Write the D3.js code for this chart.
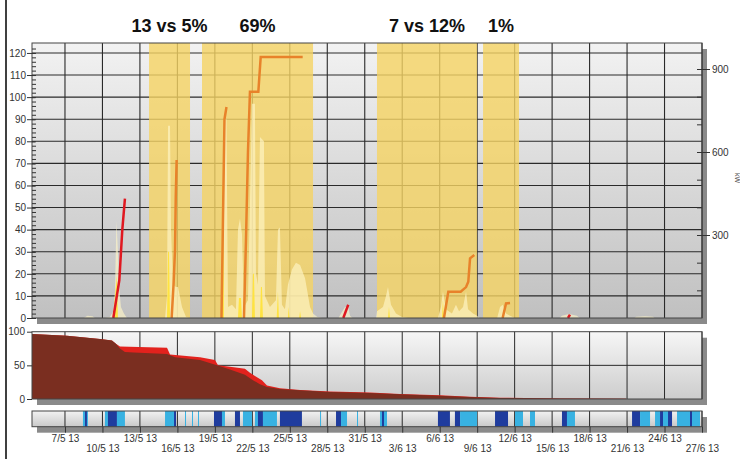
<!DOCTYPE html>
<html>
<head>
<meta charset="utf-8">
<script src="https://cdn.jsdelivr.net/npm/d3@7"></script>
<style>
body { margin: 0; background: #fff; }
svg { font-family: "Liberation Sans", Arial, sans-serif; }
</style>
</head>
<body>
<script>
// days are counted from 1 May 2013 (32 = 1 June)
var dateTicks = [7, 10, 13, 16, 19, 22, 25, 28, 31, 34, 37, 40, 43, 46, 49, 52, 55, 58];
var mainTicks = [0, 10, 20, 30, 40, 50, 60, 70, 80, 90, 100, 110, 120];
var kwTicks = [300, 600, 900];
var pctTicks = [0, 50, 100];

var bandStart = [13.73, 17.97, 31.98, 40.47];
var bandEnd = [17.01, 26.86, 39.99, 43.35];
var bandLabels = ["13 vs 5%", "69%", "7 vs 12%", "1%"];

// pale (light) area
var paleSeries = [
    [8.5, 0], [8.8, 1], [9.2, 0.8], [9.4, 0],
    [10.2, 0], [10.6, 0.5], [10.87, 3], [11.0, 12], [11.12, 44], [11.24, 30], [11.32, 15], [11.48, 5], [11.72, 2], [11.96, 0],
    [15.01, 0], [15.17, 10], [15.25, 87], [15.41, 87], [15.49, 40], [15.65, 15], [15.89, 14], [16.05, 14], [16.37, 5], [16.69, 0.5], [17.0, 0],
    [19.4, 0], [19.65, 3], [19.81, 90], [19.93, 90], [20.05, 5], [20.37, 6], [20.69, 4], [20.85, 40], [21.01, 45], [21.17, 38], [21.33, 5],
    [21.65, 8], [21.97, 97], [22.21, 97], [22.29, 20], [22.45, 15], [22.61, 82], [22.93, 80], [23.01, 10], [23.41, 5], [23.89, 8],
    [24.05, 40], [24.21, 41], [24.37, 6], [24.61, 4], [24.85, 15], [25.17, 22], [25.49, 25], [25.82, 24], [26.22, 18], [26.62, 5],
    [26.86, 2], [27.2, 0.5], [27.6, 0],
    [28.9, 0], [29.1, 2], [29.42, 5], [29.68, 5], [29.82, 1], [30.0, 0],
    [31.9, 0], [31.98, 3], [32.46, 5], [32.7, 10], [32.86, 14], [33.1, 6], [33.5, 2], [33.98, 0.5], [34.5, 0],
    [36.86, 0], [37.1, 5], [37.26, 12], [37.5, 4], [37.98, 2], [38.3, 6], [38.55, 3], [38.87, 5], [39.11, 12], [39.27, 4], [39.67, 2], [39.99, 1], [40.2, 0],
    [41.6, 0], [41.83, 5], [42.04, 6], [42.31, 2], [42.63, 1], [43.0, 0],
    [46.6, 0], [46.79, 1], [47.35, 1.8], [47.99, 1], [48.2, 0],
    [52.6, 0], [52.72, 0.6], [53.44, 0.8], [54.08, 0.6], [54.2, 0]
];

// bright yellow spikes
var brightSeries = [
    [10.87, 0], [11.0, 10], [11.16, 19], [11.24, 0],
    [15.17, 0], [15.25, 30], [15.33, 30], [15.41, 0],
    [19.53, 0], [19.57, 60], [19.65, 60], [19.73, 0],
    [20.85, 0], [20.93, 9], [21.09, 9], [21.17, 0],
    [21.97, 0], [22.05, 20], [22.13, 20], [22.21, 0],
    [22.61, 0], [22.69, 14], [22.77, 14], [22.85, 0],
    [23.95, 0], [24.05, 12], [24.13, 0],
    [24.85, 0], [24.9, 5], [24.98, 0],
    [25.75, 0], [25.82, 3], [25.9, 0],
    [32.86, 0], [32.94, 5], [33.02, 0],
    [37.18, 0], [37.26, 8], [37.34, 0]
];

var orangeLines = [
    [[15.54, 0], [15.69, 15], [15.81, 31], [15.87, 55], [15.94, 71.5]],
    [[19.53, 0], [19.65, 45], [19.77, 90], [19.93, 95.5]],
    [[21.33, 0], [21.49, 35], [21.65, 75], [21.81, 102.4], [22.48, 102.4], [22.67, 118.2], [26.03, 118.2]],
    [[37.34, 0], [37.69, 11.9], [38.68, 11.9], [39.11, 14], [39.29, 16.4], [39.43, 27], [39.77, 28.5]],
    [[42.04, 0], [42.31, 6.6], [42.63, 6.8]]
];

var redLines = [
    [[10.87, 0], [11.35, 17], [11.59, 40], [11.8, 54]],
    [[29.28, 0], [29.68, 6]],
    [[47.27, 0], [47.43, 1.5]]
];

// middle panel, percent
var pctUpper = [
    [4.36, 96.6], [7.16, 94], [9.8, 89], [10.76, 87], [11.08, 82], [11.4, 78], [15.17, 76], [15.41, 66], [17.81, 62],
    [19.01, 58], [19.25, 50], [20.21, 48], [21.41, 45], [21.81, 39], [22.21, 34], [22.77, 28], [23.17, 20], [24.21, 16],
    [25.82, 13.5], [28.22, 11], [31.42, 9.5], [33.82, 7.5], [37.02, 5.5], [39.43, 3.5], [41.83, 2], [46.63, 0.8], [51.92, 0.4]
];
var pctLower = [
    [4.36, 96.6], [7.16, 94], [9.8, 89], [10.76, 87], [11.08, 82], [11.4, 75], [11.8, 70], [12.5, 69], [15.17, 67],
    [15.81, 62], [17.81, 58], [19.17, 50], [20.21, 44], [21.41, 36], [22.05, 28], [22.61, 22], [23.17, 18], [24.21, 15],
    [25.82, 13], [28.22, 10.5], [31.42, 9], [33.82, 7], [37.02, 5], [39.43, 3], [41.83, 1.5], [46.63, 0.6], [51.92, 0.3]
];

// bottom strip: [start, end, level] 1 = light, 2 = dark
var stripBars = [
    [8.44, 8.6, 1], [8.6, 8.76, 2], [8.76, 8.84, 1],
    [10.2, 10.44, 1], [10.44, 11.16, 2], [11.16, 11.8, 1],
    [15.01, 15.73, 1], [15.73, 15.89, 2],
    [16.61, 16.69, 1], [17.17, 17.25, 1], [17.65, 17.73, 1],
    [18.93, 19.57, 2], [19.57, 19.81, 1],
    [20.61, 21.01, 2], [21.25, 21.97, 1],
    [22.21, 22.45, 1], [22.45, 22.85, 2], [22.85, 23.97, 1],
    [24.21, 25.97, 2], [27.42, 27.5, 1],
    [28.7, 29.1, 2], [29.1, 29.58, 1], [30.38, 30.46, 1],
    [32.22, 32.38, 1], [32.38, 32.54, 2], [32.54, 32.78, 1],
    [36.86, 37.82, 2], [38.22, 38.63, 2], [38.63, 39.99, 1],
    [41.43, 42.47, 2], [43.03, 43.67, 1], [44.23, 44.63, 1],
    [46.79, 47.19, 2], [47.19, 47.83, 1],
    [52.4, 53.04, 2], [53.04, 53.84, 1], [54.24, 54.64, 1], [54.64, 54.88, 2], [54.88, 55.28, 1],
    [55.28, 55.6, 2], [56.0, 57.04, 1], [57.04, 57.2, 2], [57.2, 57.84, 1]
];

var dayZero = new Date(2013, 4, 1).getTime();
function toDate(day) {
    return new Date(dayZero + (day - 1) * 864e5);
}

var width = 740, height = 459;

var svg = d3.select("body").append("svg")
    .attr("width", width)
    .attr("height", height);

var main = {left: 32, right: 702, top: 43, bottom: 318};
var mid = {top: 331.7, bottom: 399};
var strip = {top: 411, bottom: 426.7};

var x = d3.scaleTime()
    .domain([toDate(4.36), toDate(58)])
    .range([main.left, main.right]);
var y = d3.scaleLinear().domain([0, 124.5]).range([main.bottom, main.top]);
var yKw = d3.scaleLinear().domain([0, 994]).range([main.bottom, main.top]);
var yPct = d3.scaleLinear().domain([0, 100]).range([mid.bottom, mid.top]);

var defs = svg.append("defs");
function gradient(id, c1, c2) {
    var gr = defs.append("linearGradient").attr("id", id)
        .attr("x1", 0).attr("y1", 0).attr("x2", 0).attr("y2", 1);
    gr.append("stop").attr("offset", "0%").attr("stop-color", c1);
    gr.append("stop").attr("offset", "100%").attr("stop-color", c2);
}
gradient("mainbg", "#f2f2f2", "#c0c0c0");
gradient("midbg", "#f6f6f6", "#cdcdcd");
gradient("stripbg", "#f2f2f2", "#c9c9c9");

// frame line on the left
svg.append("line")
    .attr("x1", 6).attr("x2", 6).attr("y1", 0).attr("y2", height)
    .attr("stroke", "#000").attr("stroke-width", 1.5);

function panel(top, bottom, fill) {
    var g = svg.append("g");
    g.append("rect")
        .attr("x", main.left + 5).attr("y", top + 6)
        .attr("width", main.right - main.left).attr("height", bottom - top)
        .attr("fill", "#8a8a8a");
    g.append("rect")
        .attr("x", main.left).attr("y", top)
        .attr("width", main.right - main.left).attr("height", bottom - top)
        .attr("fill", fill);
    return g;
}

// ---------- main panel ----------
var gMain = panel(main.top, main.bottom, "url(#mainbg)");

gMain.selectAll(".vgrid").data(dateTicks).enter().append("line")
    .attr("x1", d => x(toDate(d))).attr("x2", d => x(toDate(d)))
    .attr("y1", main.top).attr("y2", main.bottom)
    .attr("stroke", "#2a2a2a").attr("stroke-width", 1.1);
gMain.selectAll(".hgrid").data(mainTicks.slice(1)).enter().append("line")
    .attr("x1", main.left).attr("x2", main.right)
    .attr("y1", d => y(d)).attr("y2", d => y(d))
    .attr("stroke", "#2a2a2a").attr("stroke-width", 1.1);

gMain.selectAll(".band").data(bandStart).enter().append("rect")
    .attr("x", d => x(toDate(d)))
    .attr("width", (d, i) => x(toDate(bandEnd[i])) - x(toDate(d)))
    .attr("y", main.top)
    .attr("height", main.bottom - main.top)
    .attr("fill", "rgb(245,211,99)")
    .attr("opacity", 0.8);

var area = d3.area()
    .x(d => x(toDate(d[0])))
    .y0(y(0))
    .y1(d => y(d[1]));

gMain.append("path")
    .datum(paleSeries)
    .attr("d", area)
    .attr("fill", "#fff6c8")
    .attr("opacity", 0.65);

gMain.append("path")
    .datum(brightSeries)
    .attr("d", area)
    .attr("fill", "#ffe234")
    .attr("opacity", 0.9);

var line = d3.line()
    .x(d => x(toDate(d[0])))
    .y(d => y(d[1]));

gMain.selectAll(".orange").data(orangeLines).enter().append("path")
    .attr("d", line)
    .attr("fill", "none")
    .attr("stroke", "#e8822a")
    .attr("stroke-width", 2.5);

gMain.selectAll(".red").data(redLines).enter().append("path")
    .attr("d", line)
    .attr("fill", "none")
    .attr("stroke", "#e01820")
    .attr("stroke-width", 2.5);

gMain.append("rect")
    .attr("x", main.left).attr("y", main.top)
    .attr("width", main.right - main.left).attr("height", main.bottom - main.top)
    .attr("fill", "none").attr("stroke", "#444");

svg.selectAll(".bandlabel").data(bandLabels).enter().append("text")
    .attr("x", (d, i) => (x(toDate(bandStart[i])) + x(toDate(bandEnd[i]))) / 2)
    .attr("y", 32)
    .attr("text-anchor", "middle")
    .style("font-size", "18px")
    .style("font-weight", "bold")
    .attr("fill", "#111")
    .text(d => d);

// left axis + minor ticks
var yAxis = d3.axisLeft(y).tickValues(mainTicks).tickSize(8).tickPadding(1);
svg.append("g").attr("class", "axis")
    .attr("transform", `translate(35,0)`)
    .call(yAxis);
svg.append("g").attr("class", "axis")
    .attr("transform", `translate(36,0)`)
    .call(d3.axisLeft(y).tickValues(d3.range(0, 124, 2)).tickSize(4).tickFormat(""));

// right axis
svg.append("g").attr("class", "axis")
    .attr("transform", `translate(697,0)`)
    .call(d3.axisRight(yKw).tickValues(kwTicks).tickSize(13).tickPadding(2));
svg.append("g").attr("class", "axis")
    .attr("transform", `translate(697,0)`)
    .call(d3.axisRight(yKw).tickValues(d3.range(100, 1000, 100)).tickSize(5).tickFormat(""));

svg.append("text")
    .attr("transform", "translate(735,178) rotate(90)")
    .attr("text-anchor", "middle")
    .style("font-size", "7px")
    .attr("fill", "#555")
    .text("kW");

// ---------- middle panel ----------
var gMid = panel(mid.top, mid.bottom, "url(#midbg)");

gMid.selectAll(".vgrid").data(dateTicks).enter().append("line")
    .attr("x1", d => x(toDate(d))).attr("x2", d => x(toDate(d)))
    .attr("y1", mid.top).attr("y2", mid.bottom)
    .attr("stroke", "#2a2a2a");
gMid.append("line")
    .attr("x1", main.left).attr("x2", main.right)
    .attr("y1", yPct(50)).attr("y2", yPct(50))
    .attr("stroke", "#2a2a2a");

var pctArea = d3.area()
    .x(d => x(toDate(d[0])))
    .y0(yPct(0))
    .y1(d => yPct(d[1]));

gMid.append("path").datum(pctUpper).attr("d", pctArea).attr("fill", "#e2221d");
gMid.append("path").datum(pctLower).attr("d", pctArea).attr("fill", "#7a2e20");

gMid.append("rect")
    .attr("x", main.left).attr("y", mid.top)
    .attr("width", main.right - main.left).attr("height", mid.bottom - mid.top)
    .attr("fill", "none").attr("stroke", "#444");

svg.append("g").attr("class", "axis")
    .attr("transform", `translate(${main.left},0)`)
    .call(d3.axisLeft(yPct).tickValues(pctTicks).tickSize(5).tickPadding(2));

// ---------- strip ----------
var gStrip = panel(strip.top, strip.bottom, "url(#stripbg)");

gStrip.selectAll(".vgrid").data(dateTicks).enter().append("line")
    .attr("x1", d => x(toDate(d))).attr("x2", d => x(toDate(d)))
    .attr("y1", strip.top).attr("y2", strip.bottom)
    .attr("stroke", "#2a2a2a");

gStrip.selectAll(".bar").data(stripBars).enter().append("rect")
    .attr("x", d => x(toDate(d[0])))
    .attr("width", d => Math.max(1, x(toDate(d[1])) - x(toDate(d[0]))))
    .attr("y", strip.top)
    .attr("height", strip.bottom - strip.top)
    .attr("fill", d => d[2] == 2 ? "#1f3c9e" : "#38b2e2");

gStrip.append("rect")
    .attr("x", main.left).attr("y", strip.top)
    .attr("width", main.right - main.left).attr("height", strip.bottom - strip.top)
    .attr("fill", "none").attr("stroke", "#444");

var xAxis = d3.axisBottom(x)
    .tickValues(dateTicks.map(toDate))
    .tickSize(6)
    .tickFormat(d3.timeFormat("%-d/%-m %y"));

var gx = svg.append("g").attr("class", "axis")
    .attr("transform", `translate(0,${strip.bottom})`)
    .call(xAxis);
gx.selectAll(".tick text")
    .attr("dy", null)
    .attr("y", (d, i) => i % 2 ? 25 : 15);

svg.selectAll(".axis .domain").remove();
svg.selectAll(".axis line").attr("stroke", "#333");
svg.selectAll(".axis text")
    .attr("fill", "#333")
    .style("font-size", "10px")
    .style("font-family", "Liberation Sans, Arial, sans-serif");
</script>
</body>
</html>
